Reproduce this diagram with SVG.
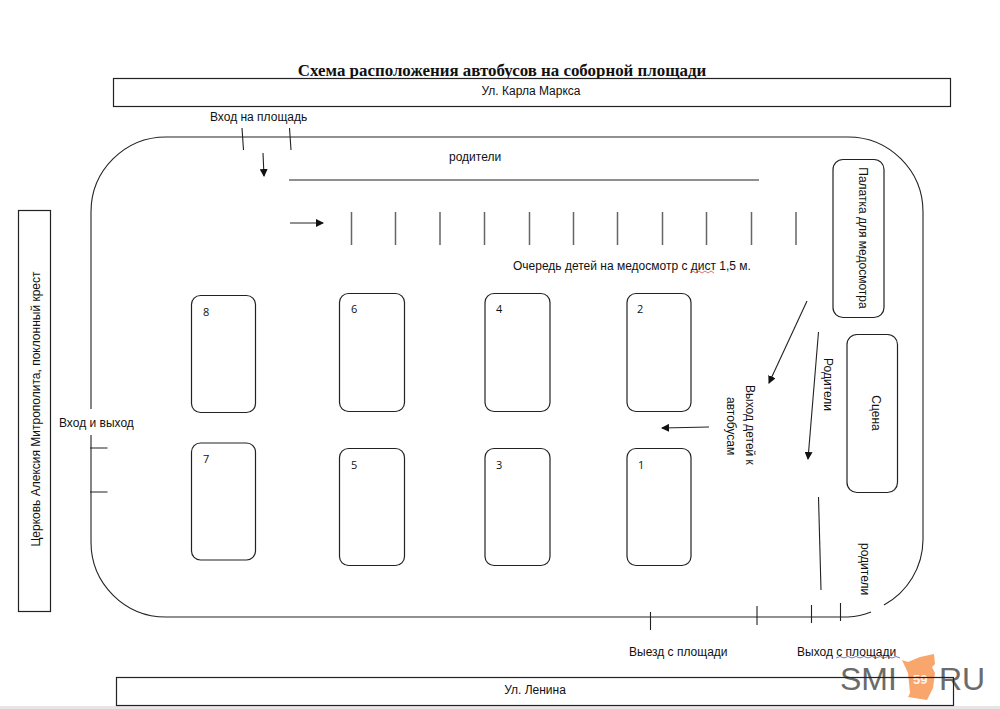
<svg xmlns="http://www.w3.org/2000/svg" width="1000" height="709" viewBox="0 0 1000 709">
<style>
text{font-family:"Liberation Sans",Arial,sans-serif;font-size:12px;fill:#111}
.n{font-family:"Open Sans","Liberation Sans",sans-serif;font-size:11px}
.b{fill:#fff;stroke:#222;stroke-width:1.2}
.l{fill:none;stroke:#222;stroke-width:1.1}
.g{fill:none;stroke:#666;stroke-width:1.5}
.m{text-anchor:middle}
</style>
<defs>
<marker id="a" markerWidth="9" markerHeight="8" refX="7" refY="4" orient="auto" markerUnits="userSpaceOnUse"><path d="M0 0L8 4L0 8Z" fill="#111"/></marker>
</defs>
<rect width="1000" height="709" fill="#fff"/>
<rect y="706" width="1000" height="3" fill="#e6e6e6"/>
<g id="title"><text x="502" y="76" class="m" style="font-family:'Liberation Serif',serif;font-size:16.9px;font-weight:bold">Схема расположения автобусов на соборной площади</text></g>
<g id="street-top"><rect class="b" x="113.500" y="78.500" width="837" height="28"/><text x="531" y="95" class="m">Ул. Карла Маркса</text></g>
<g id="logo">
<path d="M902 660L908 662L920 657L934 654L935 664L932 667L935 673L933 688L927 700L908 697L910 693L908 673Z" fill="#f9a66c"/>
<text x="913" y="684" style="font-size:13px;font-weight:bold;fill:#fff3ea">59</text>
<text x="840" y="690" style="font-size:32px;fill:#6b6b6b">SMI</text>
<text x="939" y="690" style="font-size:32px;fill:#6b6b6b">RU</text>
</g>
<g id="street-bottom"><rect x="116.500" y="677.500" width="837" height="28" fill="none" stroke="#222" stroke-width="1.200"/><text x="535" y="694" class="m">Ул. Ленина</text></g>
<g id="church"><rect class="b" x="18.500" y="210.500" width="32" height="401"/><text transform="translate(40 409) rotate(-90)" class="m">Церковь Алексия Митрополита, поклонный крест</text></g>
<g id="square"><path class="l" d="M91 409V212A75 75 0 0 1 166 137H848A75 75 0 0 1 923 212V540A75 75 0 0 1 884 605M871 612A75 75 0 0 1 848 617H166A75 75 0 0 1 91 542V435"/></g>
<g id="tent"><rect class="b" x="833" y="159.500" width="51" height="158" rx="10"/><text transform="translate(859 238) rotate(90)" class="m">Палатка для медосмотра</text></g>
<g id="stage"><rect class="b" x="847" y="334.500" width="50.500" height="158" rx="10"/><text transform="translate(872 413) rotate(90)" class="m">Сцена</text></g>
<g id="bus-8"><rect class="b" x="191.500" y="295.500" width="64" height="117" rx="9"/><text x="203" y="316" class="n">8</text></g>
<g id="bus-6"><rect class="b" x="339.500" y="293.500" width="65" height="118" rx="9"/><text x="351" y="313" class="n">6</text></g>
<g id="bus-4"><rect class="b" x="485" y="293.500" width="65" height="118" rx="9"/><text x="496" y="313" class="n">4</text></g>
<g id="bus-2"><rect class="b" x="627" y="293.500" width="64" height="118" rx="9"/><text x="637" y="313" class="n">2</text></g>
<g id="bus-7"><rect class="b" x="191.500" y="443" width="64" height="117" rx="9"/><text x="203" y="463" class="n">7</text></g>
<g id="bus-5"><rect class="b" x="339.500" y="448.500" width="65" height="117" rx="9"/><text x="351" y="469" class="n">5</text></g>
<g id="bus-3"><rect class="b" x="485" y="448.500" width="65" height="117" rx="9"/><text x="496" y="469" class="n">3</text></g>
<g id="bus-1"><rect class="b" x="627" y="448.500" width="64" height="117" rx="9"/><text x="638" y="469" class="n">1</text></g>
<g id="labels">
<text x="210" y="121">Вход на площадь</text>
<text x="449" y="161">родители</text>
<text x="513" y="270">Очередь детей на медосмотр с дист 1,5 м.</text>
<text x="59" y="427">Вход и выход</text>
<text x="629" y="656">Выезд с площади</text>
<text x="797" y="656">Выход с  площади</text>
<text transform="translate(824 358) rotate(90)">Родители</text>
<text transform="translate(861 543) rotate(90)">родители</text>
<text transform="translate(746 385) rotate(90)">Выход детей к</text>
<text transform="translate(727 397) rotate(90)">автобусам</text>
<path d="M690 273l3-2 3 2 3-2 3 2 3-2 3 2 3-2 3 2" fill="none" stroke="#c33" stroke-width=".7"/>
<path d="M836 658l4-1.500 4 1.500 4-1.500 4 1.500 4-1.500 4 1.500 4-1.500 4 1.500 4-1.500 4 1.500 4-1.500 4 1.500 4-1.500 4 1.500 4-1.500 4 1.500" fill="none" stroke="#449" stroke-width=".7"/>
</g>
<g id="connectors">
<path class="l" d="M242 128L243.500 150M289.500 128L291 150M289 180H759"/>
<path class="l" d="M263 153L264 176" marker-end="url(#a)"/>
<path class="l" d="M290 223H323" marker-end="url(#a)"/>
<path class="g" d="M351.500 212V245M395.500 212V245M440 212V245M484.500 212V245M529.500 212V245M573.500 212V245M617.500 212V245M662.500 212V245M706.500 212V245M751.500 212V245M796 212V245"/>
<path class="l" d="M807 301L769 383" marker-end="url(#a)"/>
<path class="l" d="M818.500 332L808 459" marker-end="url(#a)"/>
<path class="l" d="M709 427L662 428" marker-end="url(#a)"/>
<path class="l" d="M818.500 497L821 590"/>
<path class="l" d="M90 448H107.500M90 492H107.500"/>
<path class="l" d="M650.500 612V630M757 606V625M811.500 605V623M840.500 603V621"/>
</g>
</svg>
